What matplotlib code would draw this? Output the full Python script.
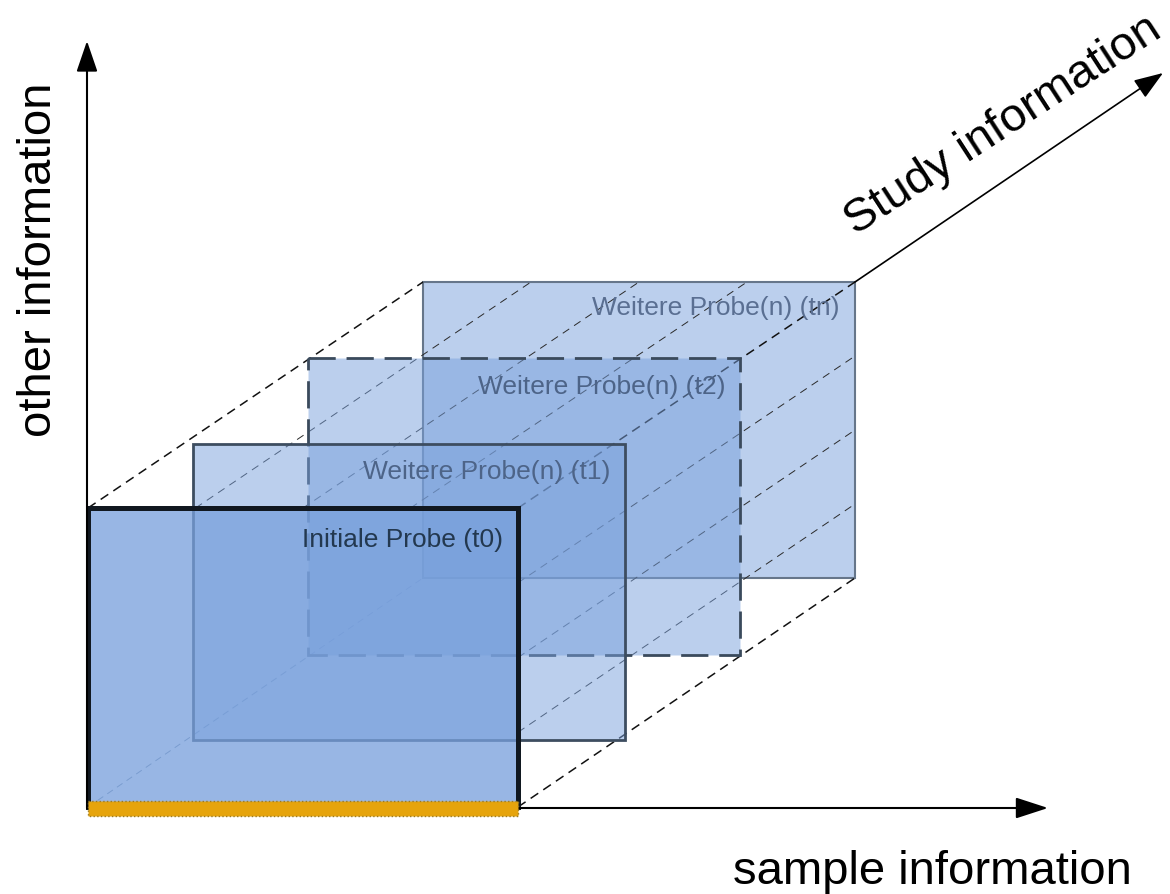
import matplotlib
matplotlib.use('Agg')
import matplotlib.pyplot as plt
from matplotlib.patches import Rectangle, FancyArrowPatch, ArrowStyle
from matplotlib.colors import to_rgba

plt.rcParams['font.family'] = ['Liberation Sans', 'DejaVu Sans']

# ---- data (diagram content) ----
panel_labels = ['Initiale Probe (t0)', 'Weitere Probe(n) (t1)',
                'Weitere Probe(n) (t2)', 'Weitere Probe(n) (tn)']
panel_left = [88, 193, 308, 423]
panel_top = [508, 444, 358, 282]
panel_width = [430, 432, 432, 432]
panel_height = [299, 296, 297, 296]
label_y = [540, 472, 387, 308]
x_label = 'sample information'
y_label = 'other information'
z_label = 'Study information'

# ---- styles ----
face_rgb = '#78a0dc'
face_alpha = [0.76, 0.5, 0.5, 0.5]
edge_colors = ['#111820', '#3d4d60', '#3a4a5c', '#66768a']
edge_lw = [3.6, 2.0, 2.0, 1.5]
edge_ls = ['-', '-', (0, (9.8, 3.9)), '-']
label_colors = ['#23384f', '#4d6488', '#4d6488', '#5a6f92']

fig = plt.figure(figsize=(11.7, 8.94), dpi=100)
ax = fig.add_axes([0, 0, 1, 1])
ax.set_xlim(0, 1170)
ax.set_ylim(894, 0)
ax.axis('off')

n = len(panel_left)
L0, T0, W0, H0 = panel_left[0], panel_top[0], panel_width[0], panel_height[0]
Ln, Tn, Wn, Hn = panel_left[-1], panel_top[-1], panel_width[-1], panel_height[-1]

# hidden back edge (bottom-left), behind all panels
ax.plot([L0, Ln], [T0 + H0, Tn + Hn], color='#8090a8', lw=0.7,
        dashes=(7, 5), zorder=1)

# panels, back to front
zorders = {3: 2, 2: 4, 1: 5, 0: 6}
for i in reversed(range(n)):
    r = Rectangle((panel_left[i], panel_top[i]), panel_width[i], panel_height[i],
                  facecolor=to_rgba(face_rgb, face_alpha[i]),
                  edgecolor=edge_colors[i], lw=edge_lw[i], ls=edge_ls[i],
                  zorder=zorders[i])
    ax.add_patch(r)
    ax.text(panel_left[i] + panel_width[i] - 15, label_y[i], panel_labels[i],
            ha='right', va='center', fontsize=19, color=label_colors[i],
            zorder=10)

# projection grid lines (top face and right face)
for k in range(5):
    outer = k in (0, 4)
    # top face
    xs = [L0 + k * W0 / 4, Ln + k * Wn / 4]
    ys = [T0, Tn]
    ax.plot(xs, ys, color='#111111' if outer else '#2a2a2a',
            lw=1.1 if outer else 0.7, dashes=(6, 4) if outer else (8, 6),
            zorder=3)
    # right face
    if k > 0:
        xs = [L0 + W0, Ln + Wn]
        ys = [T0 + k * H0 / 4, Tn + k * Hn / 4]
        ax.plot(xs, ys, color='#111111' if outer else '#2a2a2a',
                lw=1.1 if outer else 0.7, dashes=(6, 4) if outer else (8, 6),
                zorder=3)

# axes arrows
origin = (87, 808)
def arrow(p0, p1, hl, hw, lw):
    a = FancyArrowPatch(p0, p1, arrowstyle=ArrowStyle('-|>', head_length=hl, head_width=hw),
                        mutation_scale=1, lw=lw, color='black',
                        shrinkA=0, shrinkB=0, zorder=7)
    ax.add_patch(a)

arrow(origin, (87, 41), 19, 6.5, 1.5)
arrow(origin, (1048, 808), 20, 6.5, 1.5)
arrow((Ln + Wn, Tn), (1163, 73), 18, 6.5, 1.2)

# orange strip at the base of the initial sample
ax.add_patch(Rectangle((L0, 801), W0, 15, facecolor='#e6a40c',
                       edgecolor='#9a7a20', lw=1, ls=':', zorder=8))

# axis labels
ax.text(39, 260, y_label, rotation=90, ha='center', va='center',
        fontsize=34, color='black')
ax.text(733, 884, x_label, ha='left', va='baseline', fontsize=34, color='black')
ax.text(1003, 126, z_label, rotation=33, rotation_mode='anchor',
        ha='center', va='center', fontsize=34, color='black')

fig.savefig('out.png', dpi=100)
